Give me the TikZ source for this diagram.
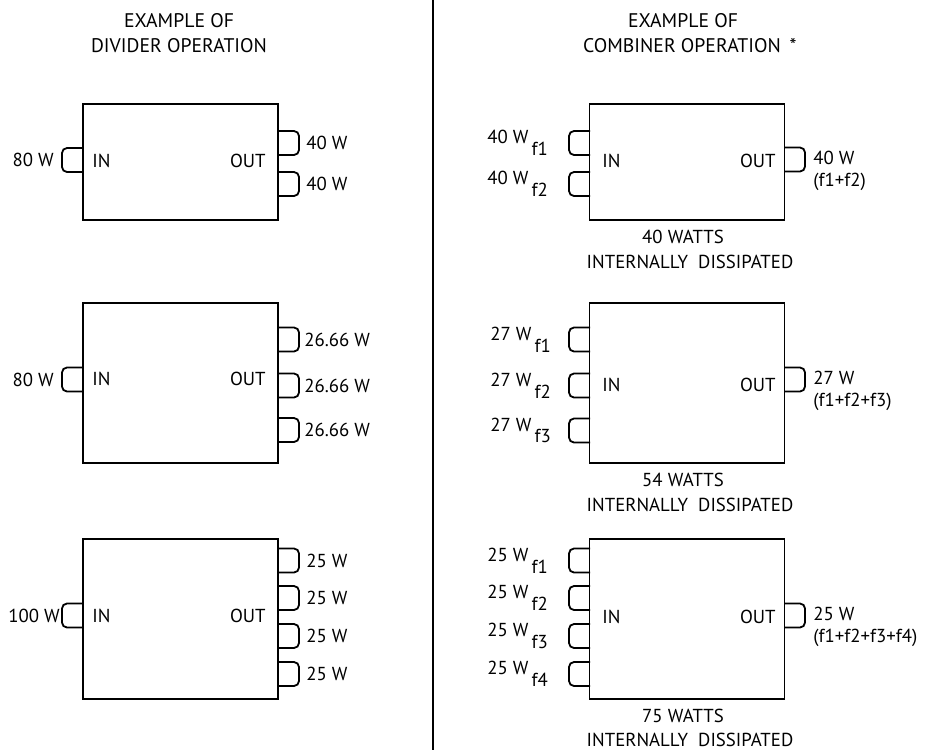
\documentclass[tikz,border=0pt]{standalone}
\usepackage{fontspec}
\setmainfont{PT Sans}
\begin{document}
\begin{tikzpicture}[x=0.5pt,y=-0.5pt,
  every node/.style={inner sep=0pt,font=\fontsize{9.4}{11}\selectfont},
  blk/.style={draw,line width=0.9pt,minimum width=97.5pt},
  short/.style={minimum height=58pt},
  tall/.style={minimum height=80pt},
  ltab/.pic={\draw[line width=0.9pt,rounded corners=2.5pt] (0,-12) -- (-21,-12) -- (-21,12) -- (0,12);},
  rtab/.pic={\draw[line width=0.9pt,rounded corners=2.5pt] (0,-12) -- (21,-12) -- (21,12) -- (0,12);},
  ttl/.style={font=\fontsize{9.85}{11}\selectfont},
  two/.style={align=left,anchor=north west}
]
\useasboundingbox (0,0) rectangle (926,750);
\draw[line width=0.8pt] (433,0) coordinate (dtop) -- (433,750) coordinate (dbot);

% titles
\node[ttl] (t1a) at (179,21) {EXAMPLE OF};
\node[ttl] (t1b) at (179,46) {DIVIDER OPERATION};
\node[ttl] (t2a) at (683,21) {EXAMPLE OF};
\node[ttl] (t2b) at (682,46) {COMBINER OPERATION\rlap{\hspace{0.45em}*}};

% ---------- divider boxes ----------
\node[blk,short] (b1) at (180.5,162) {};
\node[blk,tall]  (b2) at (180.5,383) {};
\node[blk,tall]  (b3) at (180.5,619) {};

\node[anchor=west] (b1in) at (92,161) {IN};
\node[anchor=east] (b1out) at (266,161) {OUT};
\node[anchor=west] (b2in) at (92,379) {IN};
\node[anchor=east] (b2out) at (266,379) {OUT};
\node[anchor=west] (b3in) at (92,616) {IN};
\node[anchor=east] (b3out) at (266,616) {OUT};

\pic at (83,160) {ltab};
\node[anchor=east] (l1) at (54,160) {80 W};
\pic at (278,143) {rtab};
\pic at (278,184) {rtab};
\node[anchor=west] (r1a) at (306,143) {40 W};
\node[anchor=west] (r1b) at (306,184) {40 W};

\pic at (83,379.5) {ltab};
\node[anchor=east] (l2) at (54,379.5) {80 W};
\pic at (278,339.5) {rtab};
\pic at (278,385.5) {rtab};
\pic at (278,430) {rtab};
\node[anchor=west] (r2a) at (304,339.5) {26.66 W};
\node[anchor=west] (r2b) at (304,385.5) {26.66 W};
\node[anchor=west] (r2c) at (304,430) {26.66 W};

\pic at (83,615.5) {ltab};
\node[anchor=east] (l3) at (60,615.5) {100 W};
\pic at (278,560.5) {rtab};
\pic at (278,598) {rtab};
\pic at (278,636) {rtab};
\pic at (278,674) {rtab};
\node[anchor=west] (r3a) at (306,560.5) {25 W};
\node[anchor=west] (r3b) at (306,598) {25 W};
\node[anchor=west] (r3c) at (306,636) {25 W};
\node[anchor=west] (r3d) at (306,674) {25 W};

% ---------- combiner boxes ----------
\node[blk,short] (c1) at (687,162) {};
\node[blk,tall]  (c2) at (687,383) {};
\node[blk,tall]  (c3) at (687,619) {};

\node[anchor=west] (c1in) at (602,161) {IN};
\node[anchor=east] (c1out) at (776,161) {OUT};
\node[anchor=west] (c2in) at (602,385) {IN};
\node[anchor=east] (c2out) at (776,385) {OUT};
\node[anchor=west] (c3in) at (602,617) {IN};
\node[anchor=east] (c3out) at (776,617) {OUT};

\pic at (590,143) {ltab};
\pic at (590,184) {ltab};
\node[anchor=west] (cl1a) at (487,143) {40 W\raisebox{-0.62em}{\,f1}};
\node[anchor=west] (cl1b) at (487,184) {40 W\raisebox{-0.62em}{\,f2}};
\pic at (784,159.5) {rtab};
\node[two] (cr1) at (813,151) {40 W\\[0pt](f1+f2)};
\node (d1a) at (683,237) {40 WATTS};
\node (d1b) at (690,262) {INTERNALLY\ \ DISSIPATED};

\pic at (590,339.5) {ltab};
\pic at (590,385.5) {ltab};
\pic at (590,430.5) {ltab};
\node[anchor=west] (cl2a) at (490,339.5) {27 W\raisebox{-0.62em}{\,f1}};
\node[anchor=west] (cl2b) at (490,385.5) {27 W\raisebox{-0.62em}{\,f2}};
\node[anchor=west] (cl2c) at (490,430.5) {27 W\raisebox{-0.62em}{\,f3}};
\pic at (784,379.5) {rtab};
\node[two] (cr2) at (813,371) {27 W\\[0pt](f1+f2+f3)};
\node (d2a) at (683,480) {54 WATTS};
\node (d2b) at (690,505) {INTERNALLY\ \ DISSIPATED};

\pic at (590,560.5) {ltab};
\pic at (590,598) {ltab};
\pic at (590,636) {ltab};
\pic at (590,674) {ltab};
\node[anchor=west] (cl3a) at (487,560.5) {25 W\raisebox{-0.62em}{\,f1}};
\node[anchor=west] (cl3b) at (487,598) {25 W\raisebox{-0.62em}{\,f2}};
\node[anchor=west] (cl3c) at (487,636) {25 W\raisebox{-0.62em}{\,f3}};
\node[anchor=west] (cl3d) at (487,674) {25 W\raisebox{-0.62em}{\,f4}};
\pic at (784,615.5) {rtab};
\node[two] (cr3) at (813,607) {25 W\\[0pt](f1+f2+f3+f4)};
\node (d3a) at (683,716) {75 WATTS};
\node (d3b) at (690,740) {INTERNALLY\ \ DISSIPATED};
\end{tikzpicture}
\end{document}
